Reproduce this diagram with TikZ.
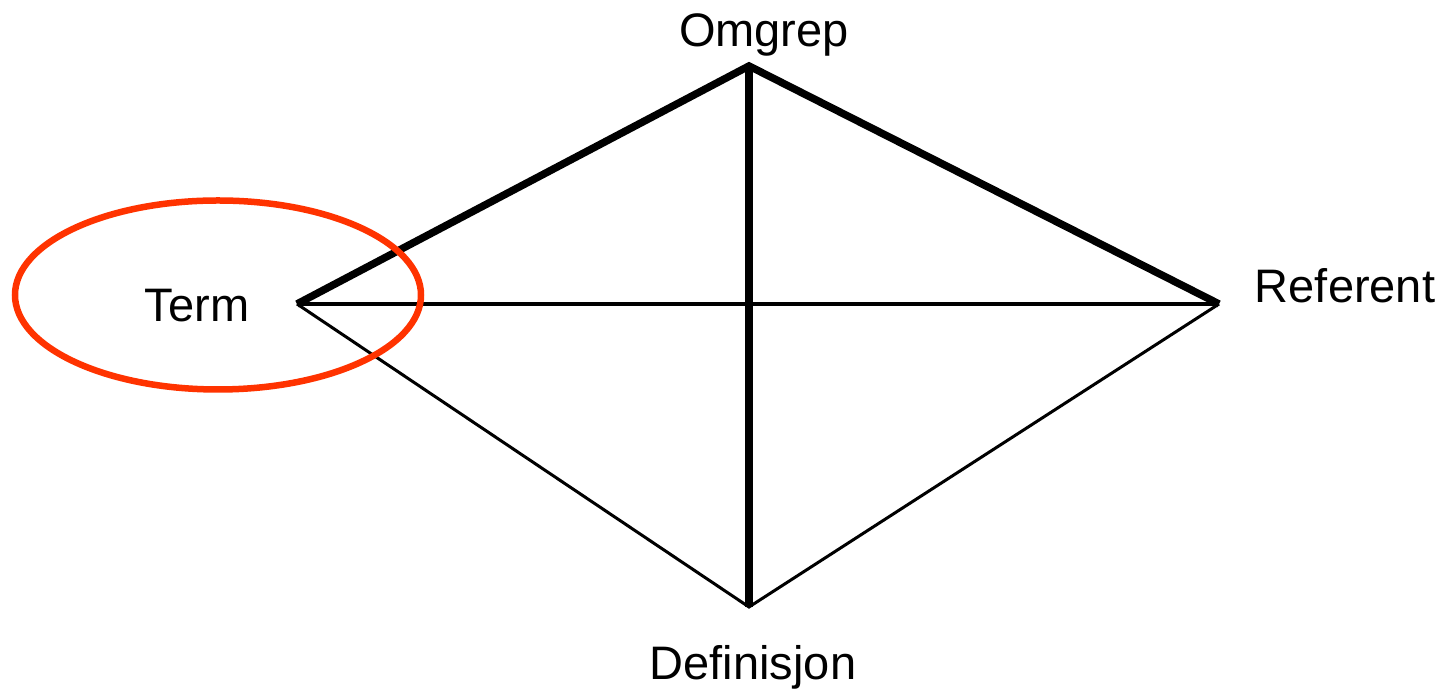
\documentclass[tikz,border=0pt]{standalone}
\usepackage{fontspec}
\setmainfont{Liberation Sans}
\usetikzlibrary{shapes.geometric}
\definecolor{ovalred}{HTML}{FF3300}
\begin{document}
\begin{tikzpicture}[x=1pt,y=1pt,
  lbl/.style={font=\fontsize{47}{50}\selectfont, anchor=base, inner sep=0pt},
  heavy/.style={line width=7.5pt, line join=miter},
  mid/.style={line width=4pt},
  light/.style={line width=3pt}]
\useasboundingbox (0,0) rectangle (1445,692);
\coordinate (T) at (297,388);
\coordinate (O) at (749,626);
\coordinate (R) at (1219,388);
\coordinate (D) at (749,85);
\draw[light] (T) -- (D) -- (R);
\draw[mid] (T) -- (R);
\draw[heavy] (T) -- (O) -- (R);
\draw[heavy] (O) -- (D);
\node[draw=ovalred, line width=6.5pt, ellipse, minimum width=406pt, minimum height=189pt, inner sep=0pt] (oval) at (218,397) {};
\node[lbl] (omgrep) at (764,645) {Omgrep};
\node[lbl] (term) at (197,370) {Term};
\node[lbl] (referent) at (1345,389) {Referent};
\node[lbl] (def) at (753,12) {Definisjon};
\end{tikzpicture}
\end{document}
